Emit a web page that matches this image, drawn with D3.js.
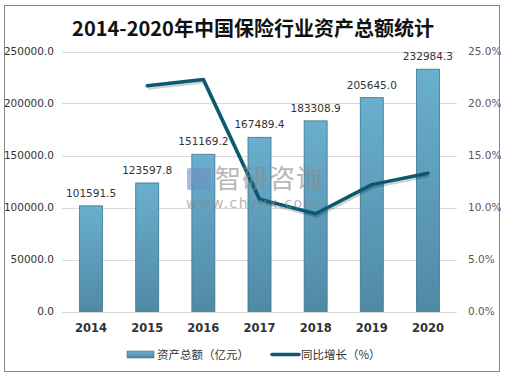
<!DOCTYPE html>
<html><head><meta charset="utf-8">
<script src="https://cdn.jsdelivr.net/npm/d3@7"></script>
<style>body{margin:0;background:#fff}svg{display:block}</style>
</head><body>
<script>
const years = ["2014","2015","2016","2017","2018","2019","2020"];
const assets = [101591.5,123597.8,151169.2,167489.4,183308.9,205645.0,232984.3];
const growth = [null,21.7,22.3,10.8,9.4,12.2,13.3];
const leftTicks = [0,50000,100000,150000,200000,250000];
const rightTicks = [0,5,10,15,20,25];
const title = "2014-2020年中国保险行业资产总额统计";
const legendNames = ["资产总额（亿元）","同比增长（%）"];

const W=508,H=378;
const svg=d3.select("body").append("svg").attr("width",W).attr("height",H);
const defs=svg.append("defs");
const g=defs.append("linearGradient").attr("id","bg").attr("x1",0).attr("y1",0).attr("x2",0).attr("y2",1);
g.append("stop").attr("offset","0%").attr("stop-color","#6aafce");
g.append("stop").attr("offset","100%").attr("stop-color","#4f8aa4");
const gl=defs.append("linearGradient").attr("id","lg").attr("x1",0).attr("y1",0).attr("x2",0).attr("y2",1);
gl.append("stop").attr("offset","0%").attr("stop-color","#6aafce");
gl.append("stop").attr("offset","100%").attr("stop-color","#4f8aa4");

svg.append("rect").attr("x",4.5).attr("y",5.5).attr("width",495).attr("height",366)
  .attr("fill","#fff").attr("stroke","#888").attr("stroke-width",1);

svg.append("text").attr("x",253).attr("y",36).attr("text-anchor","middle")
  .attr("font-family","'Noto Sans CJK SC',sans-serif").attr("font-size",20).attr("font-weight","bold")
  .attr("fill","#111").text(title);

const x=d3.scaleBand().domain(years).range([63,456]).paddingInner(0.59).paddingOuter(0.295);
const y=d3.scaleLinear().domain([0,250000]).range([311.5,51.5]);
const y2=d3.scaleLinear().domain([0,25]).range([311.5,51.5]);

// gridlines
svg.append("g").selectAll("line").data(leftTicks).join("line")
  .attr("x1",62).attr("x2",457).attr("y1",d=>Math.round(y(d))+0.5).attr("y2",d=>Math.round(y(d))+0.5)
  .attr("stroke","#d9d9d9").attr("stroke-width",1);

// left axis
const la=svg.append("g").attr("transform","translate(62,0)")
  .call(d3.axisLeft(y).tickValues(leftTicks).tickSize(0).tickPadding(8).tickFormat(d=>d.toFixed(1)));
la.select(".domain").remove();
la.selectAll("text").attr("font-family","'DejaVu Sans',sans-serif").attr("font-size",10.5).attr("fill","#333");

// right axis
const ra=svg.append("g").attr("transform","translate(457,0)")
  .call(d3.axisRight(y2).tickValues(rightTicks).tickSize(0).tickPadding(11).tickFormat(d=>d.toFixed(1)+"%"));
ra.select(".domain").remove();
ra.selectAll("text").attr("font-family","'DejaVu Sans',sans-serif").attr("font-size",10.5).attr("fill","#595959");

// x axis
const xa=svg.append("g").attr("transform","translate(0,311.5)")
  .call(d3.axisBottom(x).tickSize(0).tickPadding(12));
xa.select(".domain").remove();
xa.selectAll("text").attr("font-family","'DejaVu Sans',sans-serif").attr("font-size",11.5).attr("font-weight","bold").attr("fill","#333");

// bars
svg.append("g").selectAll("rect").data(assets).join("rect")
  .attr("x",(d,i)=>x(years[i])).attr("width",x.bandwidth())
  .attr("y",d=>y(d)).attr("height",d=>y(0)-y(d))
  .attr("fill","url(#bg)").attr("stroke","#3f7590").attr("stroke-width",0.8);

// data labels
svg.append("g").selectAll("text").data(assets).join("text")
  .attr("x",(d,i)=>x(years[i])+x.bandwidth()/2).attr("y",d=>y(d)-9)
  .attr("text-anchor","middle").attr("font-family","'DejaVu Sans',sans-serif").attr("font-size",10.5)
  .attr("fill","#333").text(d=>d.toFixed(1));

// line
const pts=growth.map((v,i)=>({v,i})).filter(d=>d.v!==null);
const line=d3.line().x(d=>x(years[d.i])+x.bandwidth()/2).y(d=>y2(d.v));
svg.append("path").datum(pts).attr("d",line).attr("fill","none")
  .attr("stroke","#000").attr("stroke-opacity",0.18).attr("stroke-width",4).attr("transform","translate(1,2)")
  .attr("stroke-linejoin","round");
svg.append("path").datum(pts).attr("d",line).attr("fill","none")
  .attr("stroke","#0b5a72").attr("stroke-width",3.5).attr("stroke-linejoin","round").attr("stroke-linecap","round");

// watermark
const wm=svg.append("g").attr("opacity",0.6);
wm.append("rect").attr("x",187).attr("y",168).attr("width",24).attr("height",22).attr("fill","#6f8fc4").attr("rx",2);
wm.append("text").attr("x",215).attr("y",188).attr("font-family","'Noto Sans CJK SC',sans-serif").attr("font-size",26)
  .attr("fill","#8a8a8a").attr("letter-spacing",1).text("智研咨询");
wm.append("text").attr("x",186).attr("y",208).attr("font-family","'DejaVu Sans',sans-serif").attr("font-size",14)
  .attr("fill","#8a8a8a").attr("letter-spacing",1.5).text("www.chyxx.com");

// legend
const lg=svg.append("g");
lg.append("rect").attr("x",127).attr("y",351).attr("width",27).attr("height",7).attr("fill","url(#lg)").attr("stroke","#3f7590").attr("stroke-width",0.6);
lg.append("text").attr("x",157).attr("y",358.5).attr("font-family","'Noto Sans CJK SC',sans-serif").attr("font-size",11.5).attr("fill","#333").text(legendNames[0]);
lg.append("line").attr("x1",272).attr("x2",299).attr("y1",354.5).attr("y2",354.5).attr("stroke","#0b5a72").attr("stroke-width",3.5).attr("stroke-linecap","round");
lg.append("text").attr("x",301).attr("y",358.5).attr("font-family","'Noto Sans CJK SC',sans-serif").attr("font-size",11.5).attr("fill","#333").text(legendNames[1]);
</script>
</body></html>
